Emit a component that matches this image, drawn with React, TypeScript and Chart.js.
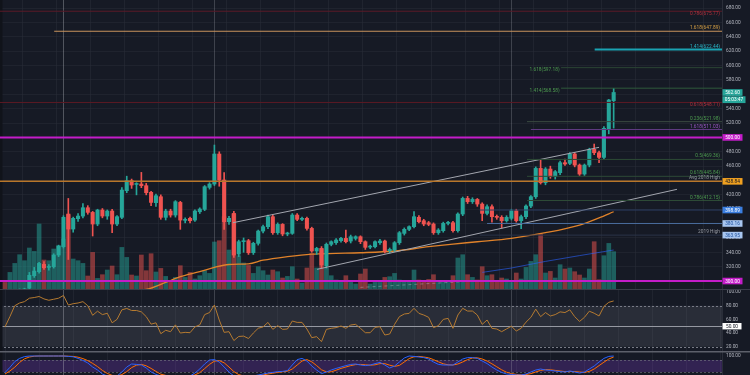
import React, { useEffect, useRef } from 'react';
import { Chart, registerables } from 'chart.js';

Chart.register(...registerables);

// ---------------- data ----------------
const opens = [283, 279, 283, 285, 287, 290, 307.4, 313, 323.2, 319, 319.9, 336.2, 347.8, 393.3, 372.4, 386.8, 390.5, 402.1, 395.6, 379.4, 398.9, 390.5, 397.5, 379.4, 388.7, 425.8, 439.7, 434.5, 435.1, 432.8, 423.5, 409.1, 417.4, 388.7, 397.5, 391.9, 409.5, 384.5, 387.3, 384.9, 396.5, 399.8, 430.4, 435.1, 476.9, 440.7, 382.6, 394.2, 337.6, 354.8, 356.2, 339.5, 352.5, 369.6, 375.7, 389.6, 367.3, 378.9, 365.5, 366.4, 391.9, 385.9, 387.3, 373.3, 341.8, 345.5, 320.9, 351.1, 353.4, 356.2, 359.4, 355.7, 359.4, 361.7, 354.8, 347.2, 347.8, 353.4, 355.7, 342.2, 343.2, 353.4, 366.4, 372, 375.7, 388.7, 384, 381.2, 379.4, 367.3, 370.1, 380.3, 381.2, 370.1, 393.3, 415.1, 410.5, 413.7, 407.2, 394.2, 403.5, 389.6, 388.7, 384, 387.3, 397.9, 384, 389.6, 404.4, 417.4, 456.9, 436.9, 456, 445.3, 450.9, 464.8, 463.9, 476.9, 461.5, 449, 461.5, 483.4, 478.7, 472.2, 511.3, 551.1];
const highs = [285, 284, 287, 289, 290, 312, 319, 326, 327, 323, 338, 350, 391, 415, 389, 394, 408, 405, 397, 400, 401, 399, 400, 391, 430, 446, 442, 437, 451.3, 436, 425, 421, 420, 400, 400, 412, 411, 388, 389, 399, 402, 433, 437, 489.4, 480, 451, 390, 397, 357, 360, 358, 354, 371, 378, 392, 392, 381, 380, 368, 394, 394, 389, 389, 375, 347, 348, 353, 356, 359, 361, 371, 364, 363, 363, 356, 350, 356, 358, 357, 346, 355, 369, 374, 377, 396.6, 391, 386, 383, 381, 373, 382, 383, 383, 395, 417, 418, 416, 415, 409, 406, 406, 392, 391, 391, 400, 400, 392, 406, 419, 459, 468.5, 458, 460, 454, 467, 470, 479, 479, 463, 463, 485, 490.8, 481, 515, 553, 568.4];
const lows = [277, 277, 281, 283, 285, 287, 305, 311, 316, 315, 318, 334, 346, 330, 368, 383, 388, 393, 362.7, 377, 388, 386, 367.3, 377, 387, 423, 429, 420, 430, 420, 405, 404, 386, 385, 389, 389, 372, 381, 381, 383, 394, 398, 428, 433, 432, 372, 379, 333, 334, 340, 337, 337, 350, 367, 373, 365, 365, 363, 363, 365, 384, 384, 371, 340, 337, 318, 318, 349, 351, 354, 353, 353, 357, 352, 344, 345, 346, 351, 339, 339, 341, 351, 364, 370, 374, 381, 377, 377, 365, 365, 368, 378, 368, 368, 391, 408, 408, 404, 384, 392, 382, 386, 374, 382, 385, 382, 373, 387, 402, 415, 435, 434, 443, 442, 448, 461, 462, 459, 447, 447, 459, 476, 464.8, 470, 505, 513];
const closes = [279, 283, 286, 288, 289, 308, 313.9, 324.6, 318.5, 319.6, 336.2, 348.7, 388.7, 372.4, 387.3, 390.5, 402.1, 395.6, 379.4, 398.9, 390.5, 397.5, 379.4, 389.6, 426.7, 439.7, 433.7, 435.1, 432.8, 423, 409.5, 418.8, 388.7, 397.5, 391.9, 410.5, 384.9, 385.3, 384, 397.5, 400.3, 431.4, 435.1, 476.9, 440.7, 382.6, 387.3, 336.2, 354.8, 355.2, 339.4, 352.5, 369.6, 375.7, 389.6, 367.3, 378.9, 365.5, 366.4, 391.9, 385.9, 387.3, 373.3, 341.8, 345.5, 322.3, 351.1, 354.8, 357.1, 359.4, 354.8, 361.7, 361.7, 354.8, 346.9, 347.8, 354.8, 355.7, 341.8, 344.1, 353.4, 367.3, 372, 375.7, 389.6, 382.6, 379.4, 378.9, 367.3, 371, 380.3, 381.2, 370.1, 393.3, 415.1, 410.5, 413.7, 407.2, 394.2, 403.5, 389.6, 388.7, 384, 388.7, 397.9, 384, 389.6, 404.4, 417.4, 456.9, 436.9, 456, 445.3, 452.3, 464.8, 463, 476.9, 461.5, 449, 461.5, 483.4, 478.7, 472.2, 512.7, 552.1, 562.6];
const volumes = [6.6, 16.6, 25.6, 34.3, 28.3, 41, 37.6, 65, 29, 28.3, 40, 43.3, 50, 74.3, 30, 28.3, 25.6, 13, 36.6, 10.6, 14.3, 19, 23, 14.3, 41.6, 31.6, 14, 13, 34, 18.3, 35.3, 17, 20.6, 12.6, 7.6, 11.6, 23.3, 11.6, 16.6, 10, 13.3, 18.3, 15.6, 47, 48.3, 72.3, 39, 75, 33.3, 26, 23.6, 15.6, 22.3, 18.3, 14, 19, 17.3, 11, 12.6, 22.3, 10, 6, 21, 35.6, 21, 40, 21, 13.3, 9, 8.3, 13.3, 6.6, 5, 15, 20, 5, 6.6, 6.6, 11.6, 12.3, 15.6, 9, 8.3, 7.6, 19, 9, 8.3, 9.6, 14.3, 6.6, 7.6, 8.3, 13.3, 31, 34.3, 14.3, 11.6, 9, 22.3, 13.3, 14.3, 8.3, 11, 10, 6.6, 16, 10, 21.6, 27.6, 34.3, 55, 16, 17.6, 11, 24.3, 20, 21, 17.3, 14, 11, 20, 47.3, 9.3, 33.3, 45.6, 37.3];
const rsiValues = [49, 64, 80, 84, 86, 91, 92, 93.5, 90, 88, 89.5, 91, 95, 81, 83, 84, 86, 80, 66, 72, 67, 69, 55, 60, 74, 76, 73, 73, 71, 64, 53, 55, 39, 44, 42, 52, 40, 41, 40.5, 49, 52, 67, 70, 81, 59, 41, 42, 29, 35, 35.5, 32, 40, 47, 49, 55.6, 45.4, 50.8, 45.4, 45.9, 57.6, 55.6, 55.6, 45.9, 33.2, 34.7, 27.4, 45.4, 46.9, 47.9, 50.3, 46.9, 51.8, 52.7, 46.9, 40.5, 40.5, 48.3, 49.3, 37.1, 38.6, 52.7, 64, 67.9, 68.8, 76.2, 68.8, 66.4, 63, 47.9, 50.8, 60, 61.5, 46.9, 66.4, 76.2, 72.2, 72.2, 66.4, 52.7, 59.1, 46.9, 45.9, 42, 46, 50, 43, 47, 56, 63, 75, 64, 70, 65, 67, 71, 70, 74, 64, 57, 63, 72, 69, 65, 79, 85, 87];
const stochK = [17, 43, 72, 88, 97, 100, 100, 100, 100, 100, 100, 100, 100, 98, 96, 88, 78, 65, 45, 30, 10, 0, 0, 0, 20, 45, 60, 58, 55, 40, 20, 8, 0, 0, 0, 0, 0, 0, 0, 15, 35, 60, 80, 82, 70, 45, 20, 0, 0, 0, 0, 0, 5, 10, 15, 18, 22, 23, 27, 55, 82, 88, 75, 50, 30, 12, 20, 30, 38, 45, 52, 58, 60, 55, 52, 55, 62, 68, 55, 40, 50, 70, 90, 100, 98, 95, 92, 85, 70, 58, 55, 55, 55, 70, 85, 92, 92, 88, 75, 62, 45, 30, 18, 10, 8, 5, 5, 10, 20, 30, 35, 30, 28, 25, 22, 20, 25, 20, 15, 20, 35, 50, 70, 88, 98, 100];
const stochD = [10, 25, 44, 68, 86, 95, 99, 100, 100, 100, 100, 100, 100, 99, 98, 94, 87, 77, 63, 47, 28, 13, 3, 0, 7, 22, 42, 54, 58, 51, 38, 23, 9, 3, 0, 0, 0, 0, 0, 5, 17, 37, 58, 74, 77, 66, 45, 22, 7, 0, 0, 0, 2, 5, 10, 14, 18, 21, 24, 35, 55, 75, 82, 71, 52, 31, 21, 21, 29, 38, 45, 52, 57, 58, 56, 54, 56, 62, 62, 54, 48, 53, 70, 87, 96, 98, 95, 91, 82, 71, 61, 56, 55, 60, 70, 82, 90, 91, 85, 75, 61, 46, 31, 19, 12, 8, 6, 7, 12, 20, 28, 32, 31, 28, 25, 22, 22, 22, 20, 18, 23, 35, 52, 69, 85, 95];
// moving average read at a few candles: [candle index, price]
const maPoints = [[28, 287], [30, 290], [33, 298], [36, 306], [40, 313], [43, 319], [46, 323], [50, 324], [53, 329], [58, 334], [63, 337.5], [68, 338.5], [73, 339.4], [80, 341.8], [87, 347.8], [92, 351.5], [97, 354.7], [104, 359.5], [111, 367.3], [118, 378], [122, 388], [125, 396.5]];
// volume average read at a few candles: [candle index, volume]
const volMaPoints = [[98, 16.6], [104, 21], [111, 27.6], [118, 33.4], [125, 39]];
const volDashPoints = [[73, 1.6], [97.5, 8.3]];
const trendUpper = [[46.8, 381.2], [122, 486.2]];
const trendLower = [[64.1, 316.3], [138, 427.7]];
const priceTicks = [300, 320, 340, 360, 380, 400, 420, 440, 460, 480, 500, 520, 540, 560, 580, 600, 620, 640, 660, 680];
const rsiTicks = [20, 40, 60, 80, 100];
const stochTicks = [100];
const weekGrid = [0, 7, 14, 21, 28, 35, 42, 49, 56, 63, 70, 77, 84, 91, 98, 105, 112, 119, 126, 133, 140, 147];
const verticalMarks = [12, 43, 104];
const levelValues = [675.77, 647.89, 622.44, 597.18, 568.58, 548.71, 521.98, 511.03, 500, 469.36, 445.84, 438.84, 412.15, 398.89, 380.16, 363.95, 300];
const levelStart = [-1.03, 10.1, 121.1, 114.2, 114.2, -1.03, 107.2, 108, -1.03, 107.2, 107.2, -1.03, 107.2, 97.5, 99, 97.5, -1.03];
const levelLabels = ['0.786(675.77)', '1.618(647.89)', '1.414(622.44)', '1.618(597.18)', '1.414(568.58)', '0.618(548.71)', '0.236(521.98)', '1.618(511.03)', '', '0.5(469.36)', '0.618(445.84)', 'Avg 2018 High', '0.786(412.15)', '', '', '2019 High', ''];
const boxValues = [562.6, 500, 438.84, 398.89, 380.16, 363.95, 300];
const countdownText = '05:03:47';

// ---------------- styles ----------------
const BG = '#161a25';
const UP = '#26a69a';
const DOWN = '#ef5350';
const UP_VOL = 'rgba(38,166,154,0.5)';
const DOWN_VOL = 'rgba(239,83,80,0.5)';
const X_MIN = -1.03;
const X_MAX = 147.25;
const AXIS_W = 28;
const FONT = '4.8px Roboto';
const TICK_COLOR = '#b2b5be';

const levelStyles = [
  { line: '#5a1a27', w: 1, text: '#b0303c', place: 'below' },
  { line: '#c8935c', w: 1.2, text: '#d9a245', place: 'above' },
  { line: '#1aa3b3', w: 1.8, text: '#2ab6c8', place: 'above' },
  { line: '#2a4534', w: 1, text: '#4d9a4f', place: 'left' },
  { line: '#2f5a3b', w: 1, text: '#4d9a4f', place: 'left' },
  { line: '#5c1a24', w: 1, text: '#b0303c', place: 'below' },
  { line: '#3a4a40', w: 1, text: '#4d9a4f', place: 'above' },
  { line: '#5e3a80', w: 1, text: '#9b58c4', place: 'above' },
  { line: '#c41cc9', w: 2, text: '', place: 'none' },
  { line: '#2d4a36', w: 1, text: '#4d9a4f', place: 'above' },
  { line: '#2d4a36', w: 1, text: '#4d9a4f', place: 'above' },
  { line: '#b8762a', w: 1.5, text: '#9598a1', place: 'above' },
  { line: '#2d4a36', w: 1, text: '#4d9a4f', place: 'above' },
  { line: '#2b3d63', w: 1, text: '', place: 'none' },
  { line: '#4b6c9e', w: 1, text: '', place: 'none' },
  { line: '#2b3449', w: 1, text: '#9598a1', place: 'above' },
  { line: '#c41cc9', w: 2, text: '', place: 'none' },
];
const boxStyles = [
  { bg: '#26a69a', fg: '#ffffff' },
  { bg: '#c41cc9', fg: '#ffffff' },
  { bg: '#f0a020', fg: '#131722' },
  { bg: '#3a7ee0', fg: '#ffffff' },
  { bg: '#a8c6f0', fg: '#1e4f9a' },
  { bg: '#a8c6f0', fg: '#1e4f9a' },
  { bg: '#c41cc9', fg: '#ffffff' },
];

const idx = opens.map((_, i) => i);
const isUp = (i: number) => closes[i] >= opens[i];

function xScale() {
  return {
    type: 'linear',
    min: X_MIN,
    max: X_MAX,
    offset: false,
    grid: { color: 'rgba(42,46,57,0.55)', drawTicks: false },
    border: { display: false },
    ticks: { display: false },
    afterBuildTicks: (s: any) => { s.ticks = weekGrid.map((v) => ({ value: v })); },
    afterFit: (s: any) => { s.height = 0; s.paddingLeft = 0; s.paddingRight = 0; },
  };
}

function yScale(min: number, max: number, ticks: number[], showGrid: boolean) {
  return {
    type: 'linear',
    position: 'right',
    min,
    max,
    grid: { display: showGrid, color: 'rgba(42,46,57,0.45)', drawTicks: false },
    border: { display: true, color: '#2a2e39' },
    ticks: {
      color: TICK_COLOR,
      font: { family: 'Roboto', size: 4.8 },
      padding: 4,
      callback: (v: any) => Number(v).toFixed(2),
    },
    afterBuildTicks: (s: any) => { s.ticks = ticks.map((v) => ({ value: v })); },
    afterFit: (s: any) => { s.width = AXIS_W; s.paddingTop = 0; s.paddingBottom = 0; },
  };
}

function drawBackground(chart: any) {
  const { ctx, width, height } = chart;
  ctx.save();
  ctx.fillStyle = BG;
  ctx.fillRect(0, 0, width, height);
  ctx.restore();
}

function drawMarks(chart: any, top: number, bottom: number) {
  const { ctx } = chart;
  const xs = chart.scales.x;
  ctx.save();
  ctx.fillStyle = '#10131a';
  ctx.fillRect(0, 0, 2.5, chart.height);
  verticalMarks.forEach((m, k) => {
    const x = Math.round(xs.getPixelForValue(m)) + 0.5;
    ctx.strokeStyle = k === 0 ? 'rgba(178,181,190,0.38)' : 'rgba(178,181,190,0.26)';
    ctx.lineWidth = 1;
    ctx.beginPath();
    ctx.moveTo(x, top);
    ctx.lineTo(x, bottom);
    ctx.stroke();
  });
  ctx.restore();
}

function drawBox(ctx: any, x: number, y: number, w: number, h: number, bg: string, fg: string, text: string) {
  ctx.fillStyle = bg;
  ctx.fillRect(x, y - h / 2, w, h);
  ctx.fillStyle = fg;
  ctx.font = FONT;
  ctx.textAlign = 'center';
  ctx.textBaseline = 'middle';
  ctx.fillText(text, x + w / 2, y + 0.3);
}

const mainPlugin = {
  id: 'mainDecor',
  beforeDraw: (chart: any) => drawBackground(chart),
  beforeDatasetsDraw: (chart: any) => drawMarks(chart, 0, chart.height),
  afterDraw: (chart: any) => {
    const { ctx, chartArea } = chart;
    const ys = chart.scales.y;
    const xs = chart.scales.x;
    ctx.save();
    ctx.font = FONT;
    levelValues.forEach((v, k) => {
      const st = levelStyles[k];
      const label = levelLabels[k];
      if (!label || st.place === 'none') return;
      const y = ys.getPixelForValue(v);
      ctx.fillStyle = st.text;
      ctx.textBaseline = 'middle';
      if (st.place === 'left') {
        ctx.textAlign = 'right';
        ctx.fillText(label, xs.getPixelForValue(levelStart[k]) - 1.5, y + 2.5);
      } else {
        ctx.textAlign = 'right';
        ctx.fillText(label, chartArea.right - 2, st.place === 'below' ? y + 2.3 : y - 3.2);
      }
    });
    const bx = chartArea.right + 0.5;
    boxValues.forEach((v, k) => {
      const y = ys.getPixelForValue(v);
      drawBox(ctx, bx, y, 20, 6.6, boxStyles[k].bg, boxStyles[k].fg, v.toFixed(2));
    });
    const yLast = ys.getPixelForValue(boxValues[0]);
    drawBox(ctx, bx, yLast + 7.2, 23, 6.8, boxStyles[0].bg, boxStyles[0].fg, countdownText);
    ctx.restore();
  },
};

const rsiPlugin = {
  id: 'rsiDecor',
  beforeDraw: (chart: any) => drawBackground(chart),
  beforeDatasetsDraw: (chart: any) => {
    const { ctx, chartArea } = chart;
    const ys = chart.scales.y;
    const y80 = ys.getPixelForValue(80);
    const y20 = ys.getPixelForValue(20);
    const y50 = ys.getPixelForValue(50);
    ctx.save();
    ctx.fillStyle = 'rgba(120,123,134,0.2)';
    ctx.fillRect(chartArea.left, y80, chartArea.right - chartArea.left, y20 - y80);
    ctx.strokeStyle = '#787b86';
    ctx.lineWidth = 1;
    ctx.setLineDash([2, 2]);
    [y80, y20].forEach((y) => {
      ctx.beginPath();
      ctx.moveTo(chartArea.left, Math.round(y) + 0.5);
      ctx.lineTo(chartArea.right, Math.round(y) + 0.5);
      ctx.stroke();
    });
    ctx.setLineDash([]);
    ctx.strokeStyle = '#9598a1';
    ctx.beginPath();
    ctx.moveTo(chartArea.left, Math.round(y50) + 0.5);
    ctx.lineTo(chartArea.right, Math.round(y50) + 0.5);
    ctx.stroke();
    ctx.restore();
    drawMarks(chart, 0, chart.height);
  },
  afterDraw: (chart: any) => {
    const { ctx, chartArea, width } = chart;
    const ys = chart.scales.y;
    ctx.save();
    ctx.fillStyle = '#3a3e4a';
    ctx.fillRect(0, 0, width, 1);
    drawBox(ctx, chartArea.right + 0.5, ys.getPixelForValue(50), 19, 6.4, '#ffffff', '#131722', '50.00');
    ctx.restore();
  },
};

const stochPlugin = {
  id: 'stochDecor',
  beforeDraw: (chart: any) => drawBackground(chart),
  beforeDatasetsDraw: (chart: any) => {
    const { ctx, chartArea } = chart;
    const ys = chart.scales.y;
    const y80 = ys.getPixelForValue(80);
    const y20 = ys.getPixelForValue(20);
    ctx.save();
    ctx.fillStyle = 'rgba(126,60,200,0.28)';
    ctx.fillRect(chartArea.left, y80, chartArea.right - chartArea.left, y20 - y80);
    ctx.strokeStyle = 'rgba(120,123,134,0.6)';
    ctx.setLineDash([2, 2]);
    ctx.lineWidth = 1;
    [y80, y20].forEach((y) => {
      ctx.beginPath();
      ctx.moveTo(chartArea.left, Math.round(y) + 0.5);
      ctx.lineTo(chartArea.right, Math.round(y) + 0.5);
      ctx.stroke();
    });
    ctx.restore();
    drawMarks(chart, 0, chart.height);
  },
  afterDraw: (chart: any) => {
    const { ctx, width } = chart;
    ctx.save();
    ctx.fillStyle = '#5d606b';
    ctx.fillRect(0, 0, width, 1.5);
    ctx.restore();
  },
};

const baseOptions = () => ({
  responsive: false,
  animation: false,
  events: [],
  layout: { padding: 0, autoPadding: false },
  plugins: { legend: { display: false }, tooltip: { enabled: false } },
});

function mainConfig(): any {
  const levelSets = levelValues.map((v, k) => ({
    type: 'line',
    data: [{ x: levelStart[k], y: v }, { x: X_MAX, y: v }],
    borderColor: levelStyles[k].line,
    borderWidth: levelStyles[k].w,
    pointRadius: 0,
    yAxisID: 'y',
    order: 0,
  }));
  const trendSets = [trendUpper, trendLower].map((t) => ({
    type: 'line',
    data: t.map(([x, y]) => ({ x, y })),
    borderColor: '#a3a6af',
    borderWidth: 1,
    pointRadius: 0,
    yAxisID: 'y',
    order: 0,
  }));
  return {
    type: 'bar',
    data: {
      datasets: [
        ...levelSets,
        ...trendSets,
        {
          type: 'line',
          data: maPoints.map(([x, y]) => ({ x, y })),
          borderColor: '#e0822a',
          borderWidth: 1.3,
          pointRadius: 0,
          cubicInterpolationMode: 'monotone',
          yAxisID: 'y',
          order: 3,
        },
        {
          type: 'bar',
          data: idx.map((i) => ({ x: i, y: [Math.min(opens[i], closes[i]), Math.max(opens[i], closes[i])] })),
          backgroundColor: idx.map((i) => (isUp(i) ? UP : DOWN)),
          barThickness: 3.4,
          minBarLength: 1,
          grouped: false,
          yAxisID: 'y',
          order: 1,
        },
        {
          type: 'bar',
          data: idx.map((i) => ({ x: i, y: [lows[i], highs[i]] })),
          backgroundColor: idx.map((i) => (isUp(i) ? UP : DOWN)),
          barThickness: 1,
          grouped: false,
          yAxisID: 'y',
          order: 2,
        },
        {
          type: 'line',
          data: volMaPoints.map(([x, y]) => ({ x, y })),
          borderColor: 'rgba(41,98,255,0.6)',
          borderWidth: 1,
          pointRadius: 0,
          yAxisID: 'vol',
          order: 5,
        },
        {
          type: 'line',
          data: volDashPoints.map(([x, y]) => ({ x, y })),
          borderColor: 'rgba(178,181,190,0.45)',
          borderDash: [3, 3],
          borderWidth: 1,
          pointRadius: 0,
          yAxisID: 'vol',
          order: 5,
        },
        {
          type: 'bar',
          data: idx.map((i) => ({ x: i, y: volumes[i] })),
          backgroundColor: idx.map((i) => (isUp(i) ? UP_VOL : DOWN_VOL)),
          barThickness: 4,
          grouped: false,
          yAxisID: 'vol',
          order: 10,
        },
      ],
    },
    options: {
      ...baseOptions(),
      scales: {
        x: xScale(),
        y: yScale(288.9, 691.4, priceTicks, true),
        vol: { type: 'linear', display: false, min: 0, max: 289 },
      },
    },
    plugins: [mainPlugin],
  };
}

function rsiConfig(): any {
  return {
    type: 'line',
    data: {
      datasets: [
        {
          data: rsiValues.map((v, i) => ({ x: i, y: v })),
          borderColor: '#b57a30',
          borderWidth: 1,
          pointRadius: 0,
        },
      ],
    },
    options: {
      ...baseOptions(),
      scales: { x: xScale(), y: yScale(13.7, 104.5, rsiTicks, false) },
    },
    plugins: [rsiPlugin],
  };
}

function stochConfig(): any {
  return {
    type: 'line',
    data: {
      datasets: [
        { data: stochK.map((v, i) => ({ x: i, y: v })), borderColor: '#2962ff', borderWidth: 1, pointRadius: 0 },
        { data: stochD.map((v, i) => ({ x: i, y: v })), borderColor: '#ff6d00', borderWidth: 1, pointRadius: 0 },
      ],
    },
    options: {
      ...baseOptions(),
      scales: { x: xScale(), y: yScale(5, 125, stochTicks, false) },
    },
    plugins: [stochPlugin],
  };
}

function Pane({ top, height, make }: { top: number; height: number; make: () => any }) {
  const ref = useRef<HTMLCanvasElement | null>(null);
  useEffect(() => {
    if (!ref.current) return;
    const chart = new Chart(ref.current, make());
    return () => chart.destroy();
  }, []);
  return (
    <div style={{ position: 'absolute', left: 0, top, width: 750, height }}>
      <canvas ref={ref} width={750} height={height} style={{ width: 750, height, display: 'block' }} />
    </div>
  );
}

export default function App() {
  return (
    <div style={{ position: 'fixed', left: 0, top: 0, width: 750, height: 375, background: BG, overflow: 'hidden' }}>
      <Pane top={0} height={289} make={mainConfig} />
      <Pane top={289} height={62} make={rsiConfig} />
      <Pane top={351} height={24} make={stochConfig} />
    </div>
  );
}
